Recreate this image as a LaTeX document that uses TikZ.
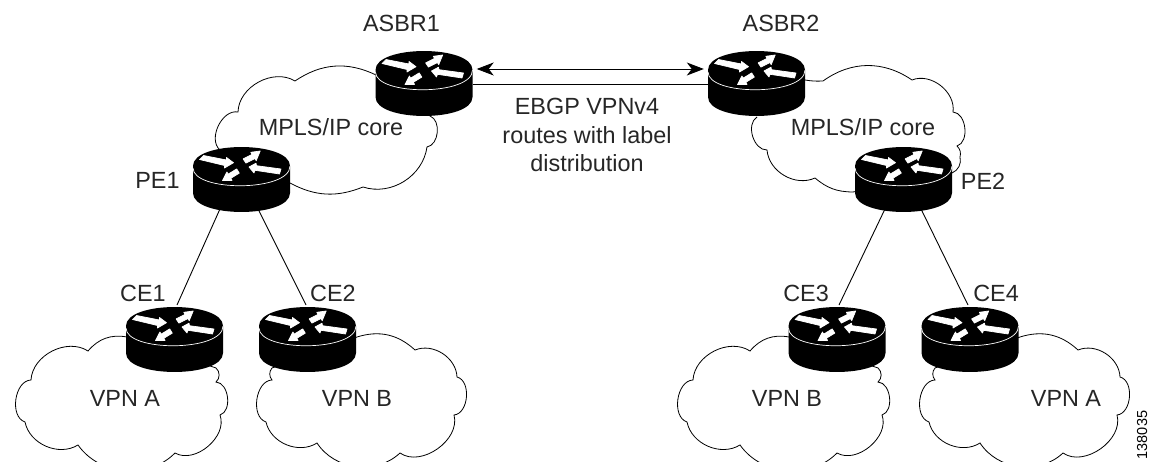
\documentclass[tikz,border=0pt]{standalone}
\usepackage{fontspec}
\setmainfont{Liberation Sans}
\usetikzlibrary{arrows.meta,calc}
\tikzset{
  x=1pt,y=-1pt,
  lbl/.style={inner sep=0pt,font=\fontsize{23.4}{28}\selectfont,text=black!85},
  rnode/.style={rectangle,inner sep=0pt,minimum width=97pt,minimum height=38pt},
  cloudline/.style={draw=black,line width=0.8pt},
  conn/.style={draw=black,line width=0.9pt},
  bl/.style={bend right=#1},
  rarrow/.style={fill=white,draw=white,line width=0.7pt,line join=round},
  routerpic/.pic={
    \fill[black] (-48.5,0) .. controls (-48.5,-25.3) and (48.5,-25.3) .. (48.5,0)
      -- (48.5,27) .. controls (48.5,52.3) and (-48.5,52.3) .. (-48.5,27) -- cycle;
    \draw[white,line width=0.7pt] (-48.5,2) .. controls (-48.5,26) and (48.5,26) .. (48.5,0);
    \path[rarrow] (-38,-10.5) -- (-15,-6) -- (-15,-8.5) -- (-8,-3.3) -- (-17,2) -- (-17,-0.5) -- (-42,-6.5) -- cycle;
    \path[rarrow] (1.6,-7.1) -- (10.6,-11.6) -- (9.3,-13.7) -- (18.7,-15) -- (14.7,-5.3) -- (13.4,-7.4) -- (4.4,-2.9) -- cycle;
    \path[rarrow] (39.5,3) -- (15,-0.3) -- (14.5,-2.8) -- (7.5,1) -- (12.5,7) -- (13.5,4.3) -- (38,8) -- cycle;
    \path[rarrow] (-4.8,2.9) -- (-13.3,8.1) -- (-14.6,6) -- (-19,14.5) -- (-9.4,14.4) -- (-10.7,12.3) -- (-2.2,7.1) -- cycle;
  },
  cloudA/.pic={
    \draw[cloudline] (127,337) to[bl=30] (88,351) to[bl=60] (31,380) to[bl=80] (25,422)
      to[bl=55] (78,445) to[bl=50] (175,453) to[bl=70] (220,415) to[bl=80] (216,382)
      to[bl=50] (216,368) -- cycle;
  },
  cloudB/.pic={
    \draw[cloudline] (272,368) to[bl=40] (272,380) to[bl=80] (266,422) to[bl=55] (317,443)
      to[bl=50] (400,453) to[bl=70] (454,415) to[bl=80] (457,377) to[bl=55] (415,350)
      to[bl=30] (357,337) -- cycle;
  }
}
\begin{document}
\begin{tikzpicture}
\path[use as bounding box,clip] (0,0) rectangle (1150,462);
% clouds
\draw[cloudline] (376,75) to[bl=30] (295,81) to[bl=60] (238,112) to[bl=75] (220,150)
  -- (290,183) to[bl=25] (363,187) to[bl=50] (427,147) to[bl=75] (430,116) -- cycle;
\draw[cloudline] (757,117) to[bl=75] (767,150) to[bl=55] (815,178) to[bl=20] (853,192) -- (952,173)
  to[bl=40] (960,157) to[bl=30] (957,146) to[bl=80] (953,112) to[bl=60] (912,80) to[bl=35] (823,81) to[bl=-6] (805,80);
\pic at (0,0) {cloudA};
\pic at (662,0) {cloudA};
\pic at (0,0) {cloudB};
\pic at (663,0) {cloudB};
% router anchors
\node[rnode] (asbr1) at (424,70) {};
\node[rnode] (asbr2) at (756.5,70) {};
\node[rnode] (pe1) at (241.5,166) {};
\node[rnode] (pe2) at (903.5,166) {};
\node[rnode] (ce1) at (174.5,326) {};
\node[rnode] (ce2) at (307.5,326) {};
\node[rnode] (ce3) at (837,326) {};
\node[rnode] (ce4) at (970,326) {};
% connectors
\draw[conn] ($(pe1)+(-22,44)$) -- ($(ce1)+(2.5,-21)$);
\draw[conn] ($(pe1)+(17,44)$) -- ($(ce2)+(-1.5,-21)$);
\draw[conn] ($(pe2)+(-19,44)$) -- ($(ce3)+(2,-21)$);
\draw[conn] ($(pe2)+(18,44)$) -- ($(ce4)+(-2,-21)$);
\draw[conn,{Stealth[length=17pt,width=13pt,inset=5pt]}-{Stealth[length=17pt,width=13pt,inset=5pt]}]
  ($(asbr1.east)+(4,-1)$) -- ($(asbr2.west)+(-4,-1)$);
\draw[conn] ($(asbr1.east)+(0,14.5)$) -- ($(asbr2.west)+(0,14.5)$);
% routers
\foreach \n in {asbr1,asbr2,pe1,pe2,ce1,ce2,ce3,ce4}{\pic at (\n) {routerpic};}
% labels
\node[lbl] (lasbr1) at (401.5,23) {ASBR1};
\node[lbl] (lasbr2) at (781,23) {ASBR2};
\node[lbl] (lcore1) at (331,127) {MPLS/IP core};
\node[lbl] (lcore2) at (863,127) {MPLS/IP core};
\node[lbl] (lpe1) at (157.5,180) {PE1};
\node[lbl] (lpe2) at (983,181) {PE2};
\node[lbl] (lce1) at (143,293) {CE1};
\node[lbl] (lce2) at (333,293) {CE2};
\node[lbl] (lce3) at (806,293) {CE3};
\node[lbl] (lce4) at (996,293) {CE4};
\node[lbl] (lv1) at (125,398) {VPN A};
\node[lbl] (lv2) at (357,398) {VPN B};
\node[lbl] (lv3) at (787,398) {VPN B};
\node[lbl] (lv4) at (1066,398) {VPN A};
\node[lbl] (le1) at (587,106) {EBGP VPNv4};
\node[lbl] (le2) at (587,135) {routes with label};
\node[lbl] (le3) at (587,163) {distribution};
\node[inner sep=0pt,font=\fontsize{14.5}{18}\selectfont,rotate=90] (lid) at (1142,435) {138035};
\end{tikzpicture}
\end{document}
